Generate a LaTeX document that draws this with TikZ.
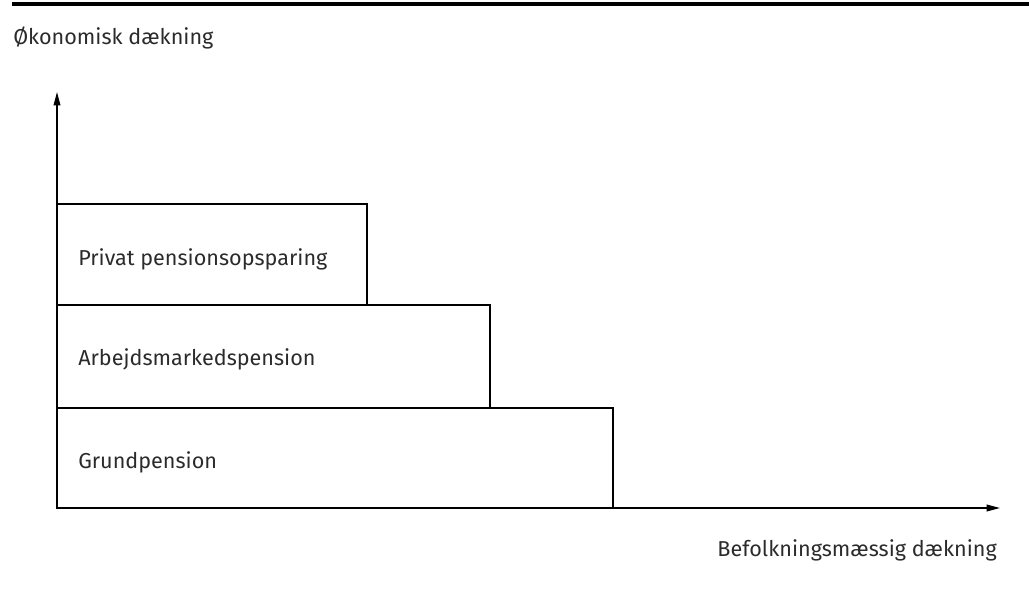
\documentclass[tikz,border=0pt]{standalone}
\usepackage{fontspec}
\setmainfont{Fira Sans}
\usepackage{xcolor}
\usetikzlibrary{positioning,arrows.meta}
\definecolor{txt}{HTML}{2B2B2B}
\tikzset{
  lbl/.style={inner sep=0pt, text=txt, font=\fontsize{16.2}{18}\selectfont},
  ax/.style={line width=1.1pt, -{Triangle[length=10pt,width=5pt]}},
  boks/.style={line width=1.1pt}
}
\begin{document}
\begin{tikzpicture}[x=0.75pt, y=-0.75pt]
      \useasboundingbox (0,0) rectangle (1029,607);
      \draw [line width=2.4pt] (12,4) -- (1029,4);
      % akser
      \coordinate           (o) at ( 57, 508);
      \coordinate        (ytop) at ( 57,  92);
      \coordinate        (xend) at (1000, 508);
      \node [lbl, anchor=west]  (ylab) at ( 13,  38) {Økonomisk dækning};
      \node [lbl, anchor=east]  (xlab) at (997, 550) {Befolkningsmæssig dækning};
      % trin
      \draw [boks] (o) rectangle (613, 408);
      \draw [boks] (57, 408) rectangle (490, 305);
      \draw [boks] (57, 305) rectangle (367, 204);
      \node [lbl, anchor=west]  (grund) at ( 78, 462) {Grundpension};
      \node [lbl, anchor=west]  (arb)   at ( 78, 359) {Arbejdsmarkedspension};
      \node [lbl, anchor=west]  (priv)  at ( 78, 259) {Privat pensionsopsparing};
      \draw [ax] (o) -- (ytop);
      \draw [ax] (o) -- (xend);
\end{tikzpicture}
\end{document}
